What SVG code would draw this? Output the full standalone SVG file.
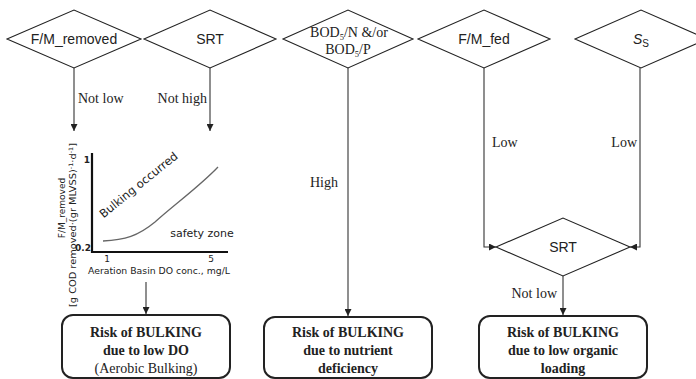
<svg xmlns="http://www.w3.org/2000/svg" width="696" height="379" viewBox="0 0 696 379">
<defs>
<marker id="ah" viewBox="0 0 10 10" refX="10" refY="5" markerWidth="7" markerHeight="7" markerUnits="userSpaceOnUse" orient="auto">
<path d="M0,0 L10,5 L0,10 z" fill="#222"/>
</marker>
<style>
.dia{fill:#fff;stroke:#222;stroke-width:1.1}
.box{fill:#fff;stroke:#222;stroke-width:2}
.con{fill:none;stroke:#333;stroke-width:1.1}
.arr{fill:none;stroke:#333;stroke-width:1.1;marker-end:url(#ah)}
.sans{font-family:"Liberation Sans",Arial,sans-serif;fill:#222}
.serif{font-family:"Liberation Serif","Times New Roman",serif;fill:#222}
.dt{font-size:14px;text-anchor:middle}
.lbl{font-size:14px}
.bt{font-family:"Liberation Serif","Times New Roman",serif;font-size:14px;font-weight:bold;text-anchor:middle;fill:#222}
.ch{font-family:"DejaVu Sans",Verdana,sans-serif;fill:#222}
</style>
</defs>

<g id="d-fm-removed">
<polygon class="dia" points="7,39 74,10 141,39 74,68"/>
<text class="sans dt" x="74" y="44">F/M_removed</text>
</g>
<g id="d-srt1">
<polygon class="dia" points="144,39 210,10 276,39 210,68"/>
<text class="sans dt" x="210" y="44">SRT</text>
</g>
<g id="d-bod">
<polygon class="dia" points="283,39 348,10 413,39 348,68"/>
<text class="serif" font-size="14" text-anchor="middle" x="349" y="37">BOD<tspan font-size="8.5" dy="3">5</tspan><tspan dy="-3">/N &amp;/or</tspan></text>
<text class="serif" font-size="14" text-anchor="middle" x="348" y="54">BOD<tspan font-size="8.5" dy="3">5</tspan><tspan dy="-3">/P</tspan></text>
</g>
<g id="d-fm-fed">
<polygon class="dia" points="418,39 484,10 550,39 484,68"/>
<text class="sans dt" x="484" y="44">F/M_fed</text>
</g>
<g id="d-ss">
<polygon class="dia" points="575,39 641,10 707,39 641,68"/>
<text class="sans dt" x="641" y="44"><tspan font-style="italic">S</tspan><tspan font-size="10" dy="3">S</tspan></text>
</g>
<g id="d-srt2">
<polygon class="dia" points="496,247 563,218 630,247 563,276"/>
<text class="sans dt" x="563" y="252">SRT</text>
</g>

<g id="chart">
<path d="M92,153 V252 H228" fill="none" stroke="#111" stroke-width="2.2"/>
<path d="M103,241 C125,240 138,236 155,222 C175,204 200,186 218,167" fill="none" stroke="#666" stroke-width="1.3"/>
<text class="ch" font-size="9" font-weight="bold" x="90" y="163" text-anchor="end">1</text>
<text class="ch" font-size="9" font-weight="bold" x="91" y="251" text-anchor="end">0.2</text>
<text class="ch" font-size="9" x="107" y="262" text-anchor="middle">1</text>
<text class="ch" font-size="9" x="211" y="262" text-anchor="middle">5</text>
<text class="ch" font-size="9.5" x="159" y="274" text-anchor="middle" textLength="142" lengthAdjust="spacingAndGlyphs">Aeration Basin DO conc., mg/L</text>
<text class="ch" font-size="11" x="202" y="237" text-anchor="middle" fill="#333">safety zone</text>
<text class="ch" font-size="11.5" transform="translate(141,188) rotate(-39)" text-anchor="middle" fill="#333">Bulking occurred</text>
<text class="ch" font-size="9" transform="translate(65,208) rotate(-90)" text-anchor="middle" fill="#444">F/M_removed</text>
<text class="ch" font-size="9" transform="translate(76,225) rotate(-90)" text-anchor="middle" fill="#444" textLength="164" lengthAdjust="spacingAndGlyphs">[g COD removed·(gr MLVSS)<tspan font-size="6" dy="-3">-1</tspan><tspan dy="3">·d</tspan><tspan font-size="6" dy="-3">-1</tspan><tspan dy="3">]</tspan></text>
</g>

<g id="b-do">
<rect class="box" x="62" y="315" width="168" height="63" rx="11"/>
<text class="bt" x="146" y="337">Risk of BULKING</text>
<text class="bt" x="146" y="355">due to low DO</text>
<text class="serif" font-size="14" text-anchor="middle" x="146" y="373">(Aerobic Bulking)</text>
</g>
<g id="b-nutrient">
<rect class="box" x="264" y="317" width="168" height="61" rx="11"/>
<text class="bt" x="348" y="337">Risk of BULKING</text>
<text class="bt" x="348" y="355">due to nutrient</text>
<text class="bt" x="348" y="373">deficiency</text>
</g>
<g id="b-organic">
<rect class="box" x="479" y="316" width="168" height="62" rx="11"/>
<text class="bt" x="563" y="337">Risk of BULKING</text>
<text class="bt" x="563" y="355">due to low organic</text>
<text class="bt" x="563" y="373">loading</text>
</g>

<g id="connectors">
<path class="arr" d="M74,68 V131"/>
<path class="arr" d="M210,68 V131"/>
<path class="arr" d="M348,68 V316"/>
<path class="arr" d="M484,68 V247 H496"/>
<path class="arr" d="M640,68 V247 H630"/>
<path class="arr" d="M563,276 V315"/>
<path class="arr" d="M146,282 V314"/>
<text class="serif lbl" x="78" y="103">Not low</text>
<text class="serif lbl" x="207" y="103" text-anchor="end">Not high</text>
<text class="serif lbl" x="310" y="187">High</text>
<text class="serif lbl" x="492" y="147">Low</text>
<text class="serif lbl" x="637" y="147" text-anchor="end">Low</text>
<text class="serif lbl" x="557" y="298" text-anchor="end">Not low</text>
</g>
</svg>
